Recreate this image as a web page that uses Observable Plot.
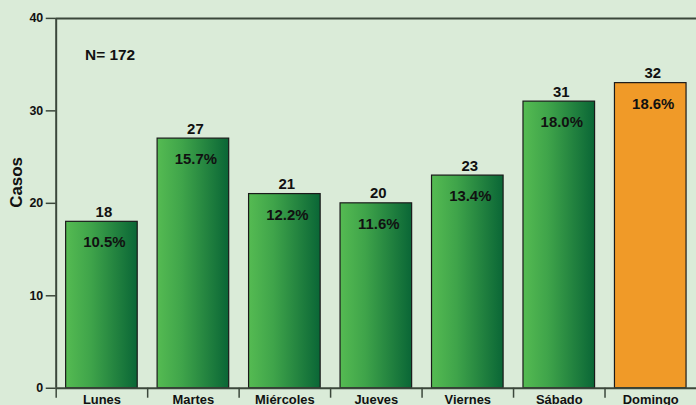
<!DOCTYPE html>
<html>
<head>
<meta charset="utf-8">
<script src="https://cdn.jsdelivr.net/npm/d3@7"></script>
<script src="https://cdn.jsdelivr.net/npm/@observablehq/plot@0.6"></script>
<style>
  html, body { margin: 0; padding: 0; background: #daebd8; overflow: hidden; width: 696px; height: 405px; }
  #chart svg { display: block; }
</style>
</head>
<body>
<div id="chart"></div>
<script>
const days = ["Lunes", "Martes", "Miércoles", "Jueves", "Viernes", "Sábado", "Domingo"];
const barHeights = [18, 27, 21, 20, 23, 31, 33];
const countLabels = ["18", "27", "21", "20", "23", "31", "32"];
const pctLabels = ["10.5%", "15.7%", "12.2%", "11.6%", "13.4%", "18.0%", "18.6%"];
const yTicks = [0, 10, 20, 30, 40];
const nLabel = "N= 172";
const yLabel = "Casos";
const highlight = "Domingo";

const data = days.map((d, i) => ({day: d, v: barHeights[i], count: countLabels[i], pct: pctLabels[i]}));
const green = data.filter(d => d.day !== highlight);
const orange = data.filter(d => d.day === highlight);

const font = "'Liberation Sans', Arial, sans-serif";
const lineColor = "#3b473b";

const chart = Plot.plot({
  width: 700,
  height: 405,
  marginLeft: 56,
  marginRight: 0,
  marginTop: 18,
  marginBottom: 15,
  style: {background: "#daebd8", fontFamily: font, color: "#111", overflow: "visible"},
  x: {domain: days, padding: 0},
  y: {domain: [0, 40]},
  marks: [
    Plot.barY(green, {x: "day", y: "v", insetLeft: 10, insetRight: 10, fill: "url(#barGrad)", stroke: "#1a1a1a", strokeWidth: 1.2}),
    Plot.barY(orange, {x: "day", y: "v", insetLeft: 10, insetRight: 10, fill: "#f09a28", stroke: "#1a1a1a", strokeWidth: 1.2}),
    Plot.ruleY([40], {stroke: lineColor, strokeWidth: 2}),
    Plot.ruleY([0], {stroke: lineColor, strokeWidth: 2}),
    Plot.ruleX([days[0]], {dx: -46, y1: 0, y2: 40, stroke: lineColor, strokeWidth: 2}),
    Plot.axisY({ticks: yTicks, tickSize: 10, tickPadding: 3, tickFormat: d => String(d), fontSize: 12.5, fontWeight: "bold", stroke: lineColor, strokeWidth: 1.5, label: null}),
    Plot.axisX({tickSize: 10, tickFormat: null, dx: -46, stroke: lineColor, strokeWidth: 1.5, label: null}),
    Plot.axisX({tickSize: 0, tickPadding: 7, fontSize: 13, fontWeight: "bold", label: null}),
    Plot.text(data, {x: "day", y: "v", text: "count", lineAnchor: "bottom", dy: -5, dx: 2, fontSize: 15, fontWeight: "bold", fill: "#111"}),
    Plot.text(data, {x: "day", y: "v", text: "pct", lineAnchor: "middle", dy: 21, dx: 2.5, fontSize: 15, fontWeight: "bold", fill: "#111"}),
    Plot.text([nLabel], {frameAnchor: "top-left", dx: 29, dy: 37, textAnchor: "start", lineAnchor: "middle", fontSize: 15.5, fontWeight: "bold", fill: "#111"}),
    Plot.text([yLabel], {frameAnchor: "left", dx: -40, dy: 4.5, rotate: -90, lineAnchor: "middle", fontSize: 17, fontWeight: "bold", fill: "#111"})
  ]
});

d3.select(chart).insert("defs", ":first-child").html(
  '<linearGradient id="barGrad" x1="0" y1="0" x2="1" y2="0">' +
  '<stop offset="0" stop-color="#55bb52"/>' +
  '<stop offset="0.35" stop-color="#3fa44a"/>' +
  '<stop offset="1" stop-color="#0a6636"/>' +
  '</linearGradient>'
);

document.getElementById("chart").appendChild(chart);
</script>
</body>
</html>
